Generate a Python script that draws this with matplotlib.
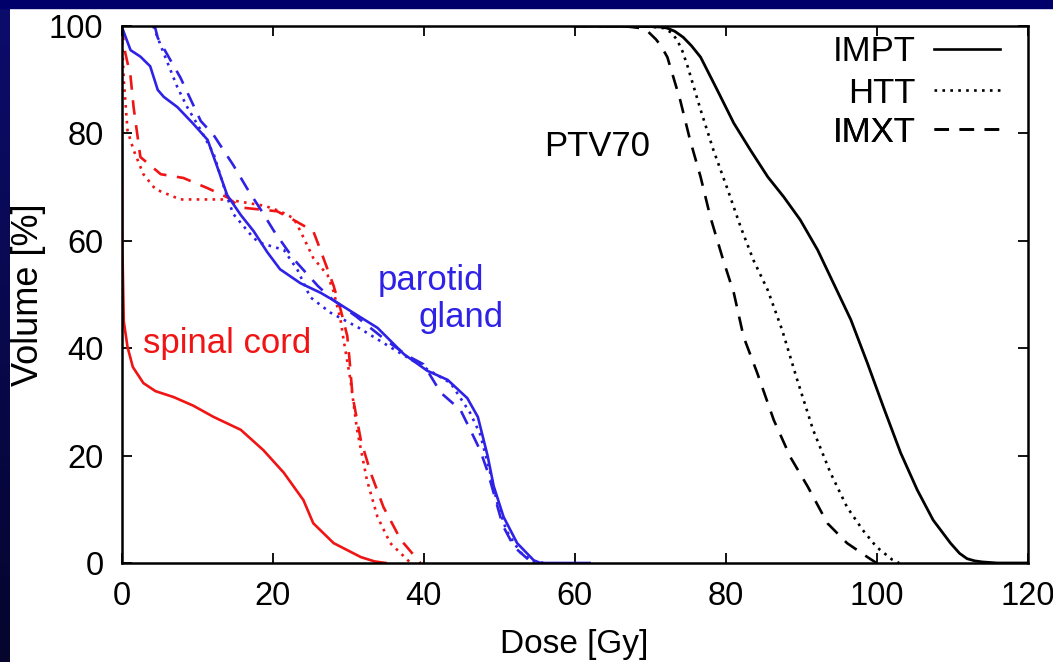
import numpy as np
import matplotlib.pyplot as plt
from matplotlib.lines import Line2D

plt.rcParams['font.family'] = ['Liberation Sans', 'DejaVu Sans']

# spinal cord (red)
sc_impt_x = [0, 0.05, 0.1, 0.3, 0.8, 1.5, 2.9, 4.5, 6.9, 9.5, 12.2, 15.8, 18.8, 21.5, 24.1, 25.4, 28.1, 31.7, 33.5, 35]
sc_impt_y = [100, 80, 60, 45, 40.2, 36.5, 33.5, 32.0, 30.9, 29.3, 27.2, 24.8, 21.0, 16.8, 11.7, 7.4, 3.7, 1.1, 0.3, 0]
sc_htt_x = [0, 0.3, 0.8, 1.6, 2.9, 4.5, 7.8, 14, 19, 21, 22.8, 23.7, 25.4, 27.3, 28.1, 29, 29.4, 30.3, 31.2, 32.5, 33.9, 35.6, 38.3]
sc_htt_y = [100, 90, 80.5, 76.9, 72.4, 69.6, 67.7, 67.7, 66.5, 65.5, 64.2, 61.8, 56.8, 53.6, 50.5, 45.4, 41.7, 34.3, 24.8, 15.5, 8.6, 3.7, 0]
sc_imxt_x = [0, 0.5, 1.2, 1.6, 2.5, 5.2, 8.2, 11.4, 14, 15.8, 20.6, 22.4, 25.4, 26.4, 28.1, 29, 29.9, 30.2, 30.6, 31.7, 33, 34.7, 37, 39.6]
sc_imxt_y = [100, 95, 90.6, 84.9, 75.6, 72.4, 71.7, 69.8, 68.1, 66.2, 65.5, 64.2, 61.8, 58.1, 51.6, 47.3, 42.3, 37.9, 31.1, 22.9, 16.8, 10.4, 4.3, 0]

# parotid gland (blue)
pg_impt_x = [0, 1.2, 2.5, 3.8, 4.8, 5.6, 7.4, 9.5, 11.4, 12.7, 14, 15.8, 17.5, 19.3, 21, 23.7, 26.4, 28.1, 30.7, 33.9, 37.4, 40.5, 43.2, 45.8, 47.2, 48.5, 49.3, 50.6, 52.4, 54.6, 55.5, 62]
pg_impt_y = [100, 95.5, 94.3, 92.5, 88.1, 86.8, 84.9, 81.8, 78.8, 73.7, 68.5, 64.8, 61.8, 57.9, 54.7, 52.1, 50.3, 48.9, 46.6, 43.8, 38.9, 35.8, 34.1, 30.7, 27.2, 19.9, 14.3, 8.6, 3.7, 0.5, 0, 0]
pg_htt_x = [4.2, 5.6, 7.4, 8.7, 10.5, 12.2, 14, 14.8, 17.5, 18.4, 21.5, 23.3, 25, 27.7, 31.3, 35.6, 40, 43.6, 46.2, 47.5, 48.8, 49.8, 51, 52.8, 54.5, 56]
pg_htt_y = [100, 94.9, 88.6, 84.9, 80.6, 76.2, 68.1, 65, 60.5, 59.6, 58.3, 54.6, 49.5, 46.6, 43.9, 40.2, 36.5, 33.5, 27.9, 24, 17, 11, 6, 2, 0.3, 0]
pg_imxt_x = [4.4, 4.8, 6.5, 7.8, 10.5, 12.2, 14.8, 16.7, 18.4, 20.2, 22.8, 26, 28, 31, 35, 38, 40, 42.3, 44.9, 46.2, 47.5, 48.5, 49.5, 50.5, 52, 54, 55]
pg_imxt_y = [100, 97.8, 93.6, 90.4, 82.3, 79.7, 74.1, 69.6, 65.9, 61.8, 56.6, 51.6, 49, 46, 41.5, 38.5, 37, 31.7, 28.5, 24.8, 21, 17, 12, 7, 3, 0.5, 0]

# PTV70 (black)
ptv_impt_x = [60, 70, 71.5, 72.3, 73.3, 74.4, 75.5, 76.7, 78.9, 81.1, 83.3, 85.6, 87.7, 89.9, 92.2, 94.3, 96.6, 98.8, 100.9, 103.2, 105.4, 107.5, 109.8, 111, 112, 113, 114, 116, 120]
ptv_impt_y = [100, 99.9, 99.8, 99.6, 99.0, 97.9, 96.3, 94.2, 88.1, 81.9, 76.9, 71.9, 68.2, 63.9, 58.3, 52.1, 45.3, 37.2, 29.1, 20.5, 13.6, 8.0, 3.7, 1.8, 0.8, 0.4, 0.2, 0, 0]
ptv_htt_x = [60, 68, 70, 71.8, 72.8, 73.6, 74.3, 75, 76.7, 78.4, 80.3, 82, 83.7, 85.6, 87.5, 89.5, 91.6, 93.9, 96.1, 98.2, 100, 102.1, 103]
ptv_htt_y = [100, 100, 99.9, 99.6, 98.8, 97.4, 95.3, 92.4, 84.4, 76.9, 69.5, 62.6, 56.4, 50.8, 43.4, 34.1, 24.8, 16.8, 10.4, 6.1, 3.0, 0.6, 0]
ptv_imxt_x = [60, 66, 67, 68.8, 69.7, 70.8, 71.5, 72.3, 74, 75.3, 76.7, 78, 79.7, 81.1, 82.4, 84.2, 86.4, 88.6, 90.9, 93.5, 96.1, 98.8, 100]
ptv_imxt_y = [100, 100, 99.9, 99.6, 99.0, 97.5, 96.2, 94.2, 86.2, 78.8, 71.9, 64.4, 56.4, 50.3, 42.1, 35.4, 26.6, 19.7, 14.2, 7.4, 3.7, 1.1, 0]

plans = ['IMPT', 'HTT', 'IMXT']

red = '#f01414'
blue = '#2e22e6'
dot = (0, (1, 2))
dash = (0, (5.5, 4))

fig = plt.figure(figsize=(10.53, 6.62), dpi=100)
fig.patch.set_facecolor('white')

# navy frame strips (top and left)
bg = fig.add_axes([0, 0, 10 / 1053, 1])
bg.imshow(np.linspace(0, 1, 100).reshape(-1, 1), aspect='auto',
          cmap=plt.matplotlib.colors.LinearSegmentedColormap.from_list('nv', ['#0c0c6c', '#05052e']))
bg.axis('off')
fig.patches.append(plt.Rectangle((0, 1 - 8 / 662), 1, 8 / 662, transform=fig.transFigure,
                                 color='#00006a', zorder=0))

ax = fig.add_axes([121.5 / 1053, 1 - 563 / 662, 906 / 1053, 537 / 662])

ax.plot(sc_impt_x, sc_impt_y, color=red, lw=1.9)
ax.plot(sc_htt_x, sc_htt_y, color=red, lw=1.9, ls=dot)
ax.plot(sc_imxt_x, sc_imxt_y, color=red, lw=1.9, ls=dash)

ax.plot(pg_impt_x, pg_impt_y, color=blue, lw=1.9)
ax.plot(pg_htt_x, pg_htt_y, color=blue, lw=1.9, ls=dot)
ax.plot(pg_imxt_x, pg_imxt_y, color=blue, lw=1.9, ls=dash)

ax.plot(ptv_impt_x, ptv_impt_y, color='black', lw=2)
ax.plot(ptv_htt_x, ptv_htt_y, color='black', lw=1.9, ls=dot)
ax.plot(ptv_imxt_x, ptv_imxt_y, color='black', lw=1.9, ls=dash)

ax.set_xlim(0, 120)
ax.set_ylim(0, 100)
ax.set_xticks(np.arange(0, 121, 20))
ax.set_yticks(np.arange(0, 101, 20))
ax.tick_params(direction='in', length=7, width=1.3, top=True, right=True,
               labelsize=23.5, pad=13)
for s in ax.spines.values():
    s.set_linewidth(1.8)
ax.set_xlabel('Dose [Gy]', fontsize=24, labelpad=12)
ax.set_ylabel('Volume [%]', fontsize=26, labelpad=2)

ax.text(56, 77.5, 'PTV70', fontsize=25, va='center')
ax.text(34, 50.8, 'parotid', fontsize=25, color=blue)
ax.text(39.3, 44.0, 'gland', fontsize=25, color=blue)
ax.text(2.8, 39.1, 'spinal cord', fontsize=25, color=red)

# legend, gnuplot style: label right-aligned, sample to its right
styles = ['-', dot, dash]
rows = [0.9516, 0.875, 0.8026]
for name, st, yy in zip(plans, styles, rows):
    h = Line2D([], [], color='black', lw=1.9, ls=st)
    leg = ax.legend([h], [name], loc='center right', bbox_to_anchor=(0.970, yy),
                    frameon=False, markerfirst=False, fontsize=25, handlelength=1.9,
                    handletextpad=0.55, borderpad=0, borderaxespad=0)
    ax.add_artist(leg)

fig.savefig('out.png', dpi=100)
